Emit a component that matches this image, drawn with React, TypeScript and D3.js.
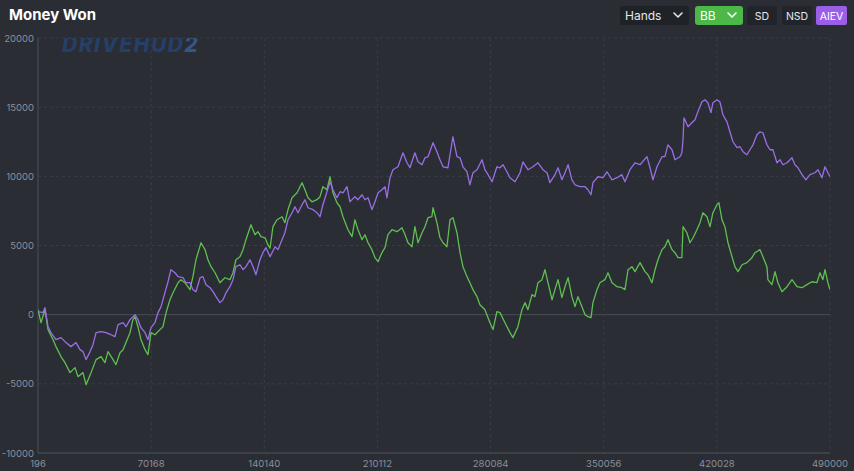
import React, { useEffect } from 'react';
import * as d3 from 'd3';

const W = 854;
const H = 471;

const xTicks = [196, 70168, 140140, 210112, 280084, 350056, 420028, 490000];
const yTicks = [-10000, -5000, 0, 5000, 10000, 15000, 20000];

// Money won (green): [hands, value]
const wonSeries: [number, number][] = [
  [196, 360], [2050, -580], [4500, 360], [6400, -1080], [9500, -1810], [11300, -2310],
  [14400, -3030], [16900, -3470], [20000, -4190], [23100, -3830], [24900, -4480], [28000, -4190],
  [29900, -5060], [33000, -4190], [36100, -3250], [39200, -3030], [41600, -3470], [43500, -2670],
  [46600, -3250], [48400, -3610], [50900, -2750], [52800, -2530], [54600, -2020], [57100, -1300],
  [58900, -360], [60200, -150], [62000, -870], [63900, -1810], [66400, -2530], [68200, -2890],
  [70100, -1300], [72500, -1450], [75600, -1080], [77500, -870], [79400, 150], [81800, 1080],
  [83700, 1590], [86800, 2310], [88600, 2530], [91100, 2310], [94200, 1810], [96000, 2750],
  [97900, 3970], [101000, 5200], [103500, 4700], [105300, 3970], [107200, 3470], [109700, 3030],
  [112700, 2310], [115800, 2670], [118900, 2530], [120800, 3030], [122600, 3970], [125100, 4190],
  [127000, 4700], [128800, 5420], [131900, 6500], [134400, 5780], [136200, 6000], [138100, 5640],
  [140600, 5560], [142400, 5060], [143700, 4800], [145500, 6360], [148000, 6860], [151100, 7080],
  [152900, 6650], [154800, 7590], [157300, 8450], [160400, 8810], [163500, 9540], [165300, 9030],
  [167200, 8450], [169600, 8160], [172700, 8310], [174600, 8530], [176400, 9250], [178900, 9030],
  [180800, 9970], [182600, 8810], [185100, 8090], [187000, 7800], [188800, 7080], [191900, 6140],
  [194400, 5640], [196200, 6860], [198100, 6140], [200600, 5420], [202400, 5780], [204300, 5200],
  [206700, 4700], [208600, 4120], [210500, 3830], [212900, 4480], [214800, 4840], [216600, 5780],
  [219100, 6140], [222200, 6000], [225300, 6290], [227200, 5780], [229000, 5200], [231500, 4910],
  [233300, 6360], [235200, 5200], [237700, 5920], [239500, 6360], [241400, 7010], [243800, 7080],
  [244500, 7730], [246900, 6650], [248800, 5560], [250700, 5200], [253100, 4910], [255000, 6860],
  [256800, 7010], [259300, 5920], [261200, 4480], [263000, 3470], [265500, 2750], [267300, 2310],
  [269200, 1810], [271700, 1300], [273500, 720], [276600, 360], [279700, -580], [281600, -1080],
  [284000, 220], [285900, 150], [289000, -580], [292100, -1300], [293900, -1660], [297000, -870],
  [299500, 360], [301400, 870], [303200, 360], [305700, 1450], [307500, 1300], [309400, 2310],
  [311900, 2530], [313700, 3250], [315600, 2310], [318100, 1080], [319900, 1810], [321800, 2530],
  [324200, 1230], [326100, 2020], [328000, 2670], [330400, 1300], [332300, 580], [334100, 1300],
  [336600, 580], [338500, 0], [340300, -150], [342200, -220], [343400, 870], [345900, 1810],
  [347700, 2310], [350800, 2530], [352700, 3030], [355200, 2310], [358300, 2020], [361300, 1950],
  [363200, 1810], [365100, 3250], [367500, 3470], [369400, 3110], [372500, 3760], [375600, 3110],
  [377400, 2890], [379900, 2310], [381800, 3250], [383600, 3970], [386100, 4700], [387900, 4910],
  [389800, 5420], [392300, 4700], [394100, 4480], [396000, 4120], [398400, 4120], [399100, 6360],
  [401500, 5920], [403400, 5200], [405300, 5560], [407700, 6140], [409600, 6650], [411400, 7370],
  [413900, 7080], [415800, 6360], [417600, 7370], [420100, 7950], [421300, 8090], [423200, 6860],
  [425000, 6360], [426900, 5200], [429400, 4190], [431200, 3470], [433100, 3110], [435600, 3610],
  [438600, 3760], [441700, 4120], [443600, 4480], [446700, 4700], [448500, 4190], [451000, 3470],
  [451600, 2530], [454100, 2170], [456000, 3110], [457800, 2310], [460300, 1660], [463400, 2020],
  [466500, 2530], [469600, 2020], [472700, 1950], [475700, 2170], [478800, 2380], [481900, 2310],
  [483800, 3030], [485600, 2530], [486900, 3250], [488700, 2310], [490000, 1810],
];

// All-in EV (purple): [hands, value]
const evSeries: [number, number][] = [
  [196, 220], [3300, 150], [4500, 510], [6400, -870], [8200, -1300], [11300, -1810],
  [14400, -1660], [17500, -2020], [20600, -2310], [23700, -2020], [26200, -2530], [28000, -2670],
  [29900, -3250], [32400, -2670], [34200, -2170], [36100, -1300], [39200, -1230], [42200, -1300],
  [45300, -1450], [47800, -1590], [49700, -720], [52800, -580], [54600, -870], [57100, -360],
  [60200, 0], [62000, -360], [63900, -940], [66400, -1300], [68200, -1810], [70100, -940],
  [72500, -580], [74400, 150], [76300, 580], [78700, 1590], [80600, 2380], [82400, 3250],
  [84900, 3030], [86800, 2750], [89900, 2670], [91700, 2310], [94200, 2310], [96000, 1810],
  [97900, 1660], [100400, 2670], [102200, 2750], [104100, 2170], [106600, 1950], [108400, 1660],
  [110300, 1300], [112700, 870], [114600, 1080], [116500, 1590], [118900, 2020], [120800, 2530],
  [122600, 3470], [125100, 3610], [127000, 3250], [128800, 3470], [131300, 3970], [133200, 3470],
  [135000, 2890], [137500, 3970], [139300, 4480], [141200, 4840], [143700, 4190], [146800, 4910],
  [148600, 4700], [151100, 5420], [152900, 5920], [154800, 6860], [157300, 7370], [159100, 7800],
  [161000, 7370], [163500, 7950], [165300, 8310], [167200, 7730], [170300, 7590], [172700, 7370],
  [174600, 7080], [176400, 7950], [178900, 8890], [180800, 9610], [182600, 9030], [185100, 8450],
  [187000, 8890], [188800, 8810], [191300, 9250], [193100, 8160], [196200, 8530], [198100, 8310],
  [200600, 8670], [202400, 8310], [204300, 8450], [206700, 7590], [208600, 8160], [210500, 8810],
  [212900, 9030], [214800, 9250], [216000, 8450], [217900, 9900], [219700, 10480], [222800, 10690],
  [225900, 11700], [228400, 10980], [230200, 10620], [233300, 11700], [235200, 11050], [237700, 10840],
  [239500, 11340], [241400, 11420], [244500, 12430], [246900, 11780], [248800, 11200], [250700, 10690],
  [253700, 10620], [256800, 12860], [259300, 11420], [261200, 11340], [263000, 10690], [265500, 10330],
  [267300, 9390], [269200, 10260], [271700, 10480], [274800, 11200], [276600, 10480], [278500, 10120],
  [281000, 9610], [284000, 10690], [285900, 10620], [287800, 10840], [290200, 10330], [292100, 9900],
  [295200, 9610], [298300, 10260], [300100, 11050], [303200, 10480], [306300, 10690], [309400, 10980],
  [312500, 10480], [315000, 10260], [316800, 9540], [319900, 10120], [321800, 10620], [324200, 9750],
  [326100, 10260], [328000, 10840], [330400, 9750], [332300, 9390], [335400, 9250], [338500, 9250],
  [340300, 9030], [342200, 8670], [343400, 9540], [346500, 9970], [349600, 9900], [352100, 10330],
  [355200, 9750], [358300, 9900], [361300, 10120], [363200, 9610], [366300, 10480], [369400, 10980],
  [372500, 10840], [376800, 11420], [378700, 10620], [380500, 9750], [383000, 10690], [386100, 11420],
  [387900, 11420], [389800, 12280], [392300, 11920], [394100, 11200], [397200, 11420], [398400, 11700],
  [399100, 12640], [399700, 14230], [402200, 13580], [404600, 13870], [406500, 14090], [408300, 14670],
  [410800, 15390], [412700, 15530], [414500, 15320], [416400, 14600], [417600, 15320], [420100, 15530],
  [421900, 15390], [423800, 14450], [426300, 13940], [428100, 13220], [430000, 12500], [432500, 12070],
  [434300, 12140], [436200, 11780], [438600, 11560], [440500, 11920], [442400, 12280], [444800, 13010],
  [446700, 13220], [448500, 13150], [451000, 12280], [452900, 11920], [454700, 11920], [457200, 10980],
  [459100, 11200], [460900, 10840], [463400, 10980], [466500, 11340], [468300, 10840], [470200, 10620],
  [472700, 10120], [475100, 9750], [477600, 10120], [480700, 10260], [482600, 10480], [485000, 9900],
  [486900, 10690], [488700, 10260], [490000, 9970],
];

const BG = '#2a2d34';
const GRID = '#393d46';
const AXIS = '#4b5059';
const TICK_TEXT = '#8c9099';
const GREEN = '#5fc04f';
const PURPLE = '#9a6ee6';
const FONT = 'Inter, "Open Sans", sans-serif';

function Chevron({ cx, cy, color }: { cx: number; cy: number; color: string }) {
  return (
    <path
      d={`M${cx - 4},${cy - 2} L${cx},${cy + 2} L${cx + 4},${cy - 2}`}
      fill="none"
      stroke={color}
      strokeWidth={1.6}
      strokeLinecap="round"
      strokeLinejoin="round"
    />
  );
}

export default function App() {
  useEffect(() => {
    document.body.style.margin = '0';
    document.body.style.background = BG;
  }, []);

  const x = d3.scaleLinear().domain([196, 490000]).range([38, 830]);
  const y = d3.scaleLinear().domain([-10000, 20000]).range([453, 38]);
  const line = d3
    .line<[number, number]>()
    .x((d) => x(d[0]))
    .y((d) => y(d[1]));

  const [x0, x1] = x.range();
  const [yb, yt] = y.range();

  return (
    <svg
      width={W}
      height={H}
      viewBox={`0 0 ${W} ${H}`}
      style={{ position: 'absolute', left: 0, top: 0, display: 'block', background: BG }}
    >
      <rect x={0} y={0} width={W} height={H} fill={BG} />
      <defs>
        <clipPath id="plotClip">
          <rect x={x0} y={yt} width={x1 - x0} height={yb - yt} />
        </clipPath>
      </defs>

      {/* Title */}
      <text x={9} y={20} fill="#ffffff" fontFamily={FONT} fontWeight={700} fontSize={15}>
        Money Won
      </text>

      {/* Buttons */}
      <rect x={620} y={6} width={69} height={19} rx={2} fill="#1f2227" />
      <text x={625} y={20} fill="#e6e7ea" fontFamily={FONT} fontSize={12}>Hands</text>
      <Chevron cx={678} cy={15} color="#e6e7ea" />

      <rect x={695} y={6} width={48} height={19} rx={3} fill="#4cb848" />
      <text x={700} y={20} fill="#ffffff" fontFamily={FONT} fontSize={12}>BB</text>
      <Chevron cx={732} cy={15} color="#ffffff" />

      <rect x={747} y={6} width={30} height={19} rx={2} fill="#21242a" />
      <text x={762} y={19.5} fill="#e6e7ea" fontFamily={FONT} fontSize={10.5} textAnchor="middle">SD</text>

      <rect x={782} y={6} width={30} height={19} rx={2} fill="#21242a" />
      <text x={797} y={19.5} fill="#e6e7ea" fontFamily={FONT} fontSize={10.5} textAnchor="middle">NSD</text>

      <rect x={816} y={6} width={31} height={19} rx={2} fill="#9b5ee8" />
      <text x={831.5} y={19.5} fill="#ffffff" fontFamily={FONT} fontSize={10.5} textAnchor="middle">AIEV</text>

      {/* Watermark (top clipped by plot area) */}
      <g clipPath="url(#plotClip)">
        <text
          x={62}
          y={52}
          fill="#24457a"
          fillOpacity={0.75}
          fontFamily={FONT}
          fontWeight={800}
          fontStyle="italic"
          fontSize={21}
          letterSpacing={1.5}
        >
          DRIVEHUD<tspan fill="#3a64a6">2</tspan>
        </text>
      </g>

      {/* Horizontal gridlines */}
      {yTicks.map((t) =>
        t === 0 ? (
          <line key={t} x1={x0} x2={x1} y1={y(t)} y2={y(t)} stroke="#4a4e57" strokeWidth={1} />
        ) : (
          <line key={t} x1={x0} x2={x1} y1={y(t)} y2={y(t)} stroke={GRID} strokeWidth={1} strokeDasharray="3,3" />
        )
      )}
      {/* Vertical gridlines */}
      {xTicks.slice(1).map((t) => (
        <line key={t} x1={x(t)} x2={x(t)} y1={yt} y2={yb} stroke={GRID} strokeWidth={1} strokeDasharray="3,3" />
      ))}

      {/* Axes */}
      <line x1={x0} x2={x0} y1={yt} y2={yb} stroke={AXIS} strokeWidth={1} />
      <line x1={x0} x2={x1} y1={yb} y2={yb} stroke={AXIS} strokeWidth={1} />

      {/* Y tick labels */}
      {yTicks.map((t) => (
        <text
          key={t}
          x={34}
          y={y(t) + 3.5}
          fill={TICK_TEXT}
          fontFamily={FONT}
          fontSize={9.5}
          textAnchor="end"
        >
          {t}
        </text>
      ))}

      {/* X tick labels */}
      {xTicks.map((t) => (
        <text
          key={t}
          x={x(t)}
          y={467}
          fill={TICK_TEXT}
          fontFamily={FONT}
          fontSize={9.5}
          textAnchor="middle"
        >
          {t}
        </text>
      ))}

      {/* Series */}
      <g clipPath="url(#plotClip)">
        <path d={line(wonSeries) ?? ''} fill="none" stroke={GREEN} strokeWidth={1.3} strokeLinejoin="round" />
        <path d={line(evSeries) ?? ''} fill="none" stroke={PURPLE} strokeWidth={1.3} strokeLinejoin="round" />
      </g>
    </svg>
  );
}
